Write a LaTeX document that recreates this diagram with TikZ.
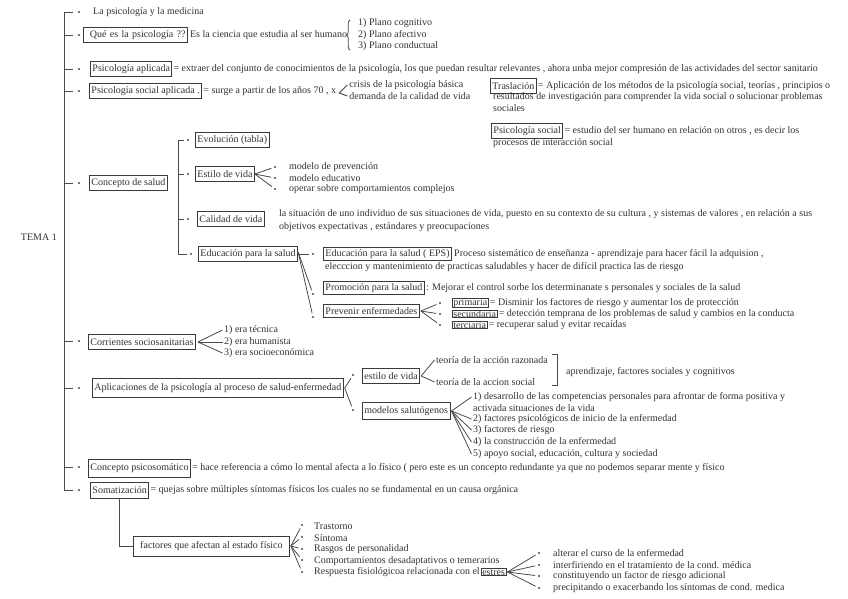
\documentclass[tikz,border=0pt]{standalone}
\usepackage{fontspec}
\setmainfont{Liberation Serif}
\usetikzlibrary{decorations.pathreplacing}
\definecolor{tc}{HTML}{333333}
\definecolor{lc}{HTML}{4A4A4A}
\definecolor{bc}{HTML}{3A3A3A}
\tikzset{
  txt/.style={anchor=west, inner sep=0pt, text=tc},
  bx/.style={draw=bc, line width=0.9pt, anchor=west, inner xsep=2pt, inner ysep=1.5pt, minimum height=15pt, text=tc},
  sbx/.style={draw=bc, line width=0.8pt, anchor=west, inner xsep=1pt, inner ysep=0.3pt, text=tc},
  ln/.style={draw=lc, line width=0.8pt},
  dot/.style={circle, fill=lc, inner sep=0pt, minimum size=2.4pt},
}
\begin{document}
\begin{tikzpicture}[x=1pt,y=-1pt,font=\fontsize{10}{11}\selectfont]
\useasboundingbox (0,0) rectangle (848,599);
\fill[white] (0,0) rectangle (848,599);

% main spine
\foreach \n/\y in {1/12,2/35,3/69,4/91,5/183,6/341,7/388,8/467,9/490}{
  \coordinate (m\n) at (64,\y);
  \node[dot] (b\n) at (79,\y) {};
  \draw[ln, shorten >=5pt] (m\n) -- (b\n);
}
\draw[ln] (m1) -- (m9);
\node[txt, anchor=east] (tema) at (57,237) {TEMA 1};

% 1
\node[txt] (t1) at (93,12) {La psicología y la medicina};

% 2
\node[bx, text width=100pt, align=right] (q) at (83,35) {Qué es la psicología ??};
\node[txt] (qd) at ([xshift=2pt]q.east) {Es la ciencia que estudia al ser humano};
\coordinate (br1) at (350,50);
\coordinate (br2) at (350,20);
\draw[ln, decorate, decoration={brace, amplitude=3.5pt}] (br1) -- (br2);
\node[txt] (p1) at (358,23) {1) Plano cognitivo};
\node[txt] (p2) at (358,35) {2) Plano afectivo};
\node[txt] (p3) at (358,46) {3) Plano conductual};

% 3
\node[bx] (pa) at (90,69) {Psicología aplicada};
\node[txt] (pad) at ([xshift=1pt]pa.east) {= extraer del conjunto de conocimientos de la psicología, los que puedan resultar relevantes , ahora unba mejor compresión de las actividades del sector sanitario};

% 4
\node[bx] (psa) at (89,91) {Psicología social aplicada .};
\node[txt] (psad) at ([xshift=1pt]psa.east) {= surge a partir de los años 70 , x};
\coordinate (f4) at ([xshift=3pt,yshift=-2pt]psad.east);
\node[txt] (cr1) at ([xshift=13pt,yshift=6pt]psad.east) {crisis de la psicología básica};
\node[txt] (cr2) at ([xshift=13pt,yshift=-5pt]psad.east) {demanda de la calidad de vida};
\draw[ln, line width=1pt] ([xshift=-2pt]cr1.west) -- (f4) -- ([xshift=-2pt]cr2.west);

\node[bx] (tr) at (490,86) {Traslación};
\node[txt] (trd) at ([xshift=1pt]tr.east) {= Aplicación de los métodos de la psicología social, teorías , principios o};
\node[txt] (trd2) at (493,97) {resultados de investigación para comprender la vida social o solucionar problemas};
\node[txt] (trd3) at (493,108) {sociales};

\node[bx] (pso) at (491,131) {Psicología social};
\node[txt] (psod) at ([xshift=1pt]pso.east) {= estudio del ser humano en relación on otros , es decir los};
\node[txt] (psod2) at (493,143) {procesos de interacción social};

% 5 Concepto de salud
\node[bx] (cs) at (89,183) {Concepto de salud};
\foreach \n/\y/\xx in {1/140/188,2/174/188,3/219/188,4/254/191}{
  \coordinate (c\n) at (178,\y);
  \node[dot] (s\n) at (\xx,\y) {};
  \draw[ln, shorten >=2.5pt] (c\n) -- (s\n);
}
\draw[ln] (c1) -- (c4);
\node[bx] (evo) at (195,140) {Evolución (tabla)};
\node[bx] (est) at (195,174) {Estilo de vida};
\node[bx] (cal) at (197,219) {Calidad de vida};
\node[bx] (edu) at (198,254) {Educación para la salud};

\foreach \n/\y/\t in {1/167/modelo de prevención,2/178/modelo educativo,3/189/operar sobre comportamientos complejos}{
  \node[dot] (e\n) at (275,\y) {};
  \node[txt] (et\n) at (289,\y) {\t};
  \draw[ln, shorten >=2.5pt] (est.east) -- (e\n);
}

\node[txt] (cald) at (279,214) {la situación de uno individuo de sus situaciones de vida, puesto en su contexto de su cultura , y sistemas de valores , en relación a sus};
\node[txt] (cald2) at (279,227) {objetivos expectativas , estándares y preocupaciones};

% Educacion para la salud
\node[dot] (u1) at (313,254) {};
\node[dot] (u2) at (313,294) {};
\node[dot] (u3) at (313,317) {};
\draw[ln, shorten >=2.5pt] (edu.east) -- (u1);
\draw[ln, shorten >=2.5pt] ([yshift=2pt]edu.east) -- (u2);
\draw[ln, shorten >=2.5pt] ([yshift=2pt]edu.east) -- (u3);

\node[bx, minimum height=13pt, inner ysep=0.5pt] (eps) at (323,254) {Educación para la salud ( EPS)};
\node[txt] (epsd) at ([xshift=2pt]eps.east) {Proceso sistemático de enseñanza - aprendizaje para hacer fácil la adquision ,};
\node[txt] (epsd2) at (325,267) {elecccion y mantenimiento de practicas saludables y hacer de difícil practica las de riesgo};

\node[bx, minimum height=13pt, inner ysep=0.5pt] (pro) at (323,288) {Promoción para la salud};
\node[txt] (prod) at ([xshift=1pt]pro.east) {: Mejorar el control sorbe los determinanate s personales y sociales de la salud};

\node[bx, minimum height=13pt, inner ysep=0.5pt] (prev) at (323,311) {Prevenir enfermedades};
\foreach \n/\y/\w/\t in {1/303/primaria/= Disminir los factores de riesgo y aumentar los de protección,2/314/secundaria/= detección temprana de los problemas de salud y cambios en la conducta,3/325/terciaria/= recuperar salud y evitar recaídas}{
  \node[dot] (v\n) at (440,\y) {};
  \draw[ln, shorten >=2.5pt] ([xshift=1pt]prev.east) -- (v\n);
  \node[sbx] (vb\n) at (452,\y) {\w};
  \node[txt] (vt\n) at ([xshift=1pt]vb\n.east) {\t};
}

% 6 Corrientes
\node[bx] (cor) at (88,342) {Corrientes sociosanitarias};
\foreach \n/\y/\t in {1/330/1) era técnica,2/342/2) era humanista,3/353/3) era socioeconómica}{
  \node[txt] (ct\n) at (224,\y) {\t};
  \draw[ln] ([xshift=2pt]cor.east) -- ([xshift=-1.5pt]ct\n.west);
}

% 7 Aplicaciones
\node[bx, minimum height=19pt] (ap) at (92,388) {Aplicaciones de la psicología al proceso de salud-enfermedad};
\node[dot] (a1) at (353,375) {};
\node[dot] (a2) at (353,410) {};
\draw[ln, shorten >=2.5pt] ([xshift=1pt]ap.east) -- (a1);
\draw[ln, shorten >=2.5pt] ([xshift=1pt]ap.east) -- (a2);
\node[bx] (ev) at (362,376) {estilo de vida};
\node[bx, minimum height=17pt] (ms) at (362,411) {modelos salutógenos};

\node[txt] (tr1) at (436,360) {teoría de la acción razonada};
\node[txt] (tr2) at (436,382) {teoría de la accion social};
\draw[ln] ([xshift=1pt]ev.east) -- ([xshift=-1.5pt]tr1.west);
\draw[ln] ([xshift=1pt]ev.east) -- ([xshift=-1.5pt]tr2.west);
\coordinate (k1) at (552,354);
\coordinate (k2) at (557,354);
\coordinate (k3) at (557,385);
\coordinate (k4) at (552,385);
\draw[ln, line width=1pt] (k1) -- (k2) -- (k3) -- (k4);
\node[txt] (apc) at (566,372) {aprendizaje, factores sociales y cognitivos};

\foreach \n/\y/\t in {1/397/1) desarrollo de las competencias personales para afrontar de forma positiva y,2/419/2) factores psicológicos de inicio de la enfermedad,3/430/3) factores de riesgo,4/442/4) la construcción de la enfermedad,5/454/5) apoyo social{,} educación{,} cultura y sociedad}{
  \node[txt] (mt\n) at (473,\y) {\t};
  \draw[ln] ([xshift=1pt]ms.east) -- ([xshift=-1.5pt]mt\n.west);
}
\node[txt] (mt1b) at (473,408) {activada situaciones de la vida};

% 8 Concepto psicosomatico
\node[bx, minimum height=18pt] (cps) at (88,468) {Concepto psicosomático};
\node[txt] (cpsd) at ([xshift=1pt]cps.east) {= hace referencia a cómo lo mental afecta a lo físico ( pero este es un concepto redundante ya que no podemos separar mente y físico};

% 9 Somatizacion
\node[bx, minimum height=16pt] (som) at (90,490) {Somatización };
\node[txt] (somd) at ([xshift=1pt]som.east) {= quejas sobre múltiples síntomas físicos los cuales no se fundamental en un causa orgánica};

\node[bx, minimum height=20pt, minimum width=156pt] (fac) at (133,546) {factores que afectan al estado físico};
\draw[ln] (som.south) |- (fac.west);

\foreach \n/\y/\xx/\t in {1/525/526/Trastorno,2/537/538/Síntoma,3/549/549/Rasgos de personalidad,4/560/561/Comportamientos desadaptativos o temerarios,5/572/572/Respuesta fisiológicoa relacionada con el}{
  \node[dot] (f\n) at (302,\y) {};
  \draw[ln, shorten >=2.5pt] ([xshift=1pt]fac.east) -- (f\n);
  \node[txt] (ft\n) at (314,\xx) {\t};
}
\node[sbx] (estr) at ([xshift=1pt]ft5.east) {estrés};

\foreach \n/\y/\t in {1/553/alterar el curso de la enfermedad,2/565/interfiriendo en el tratamiento de la cond. médica,3/576/constituyendo un factor de riesgo adicional,4/588/precipitando o exacerbando los síntomas de cond. medica}{
  \node[dot] (g\n) at (539,\y) {};
  \draw[ln, shorten >=2.5pt] ([xshift=1pt]estr.east) -- (g\n);
  \node[txt] (gt\n) at (553,\y) {\t};
}
\end{tikzpicture}
\end{document}
